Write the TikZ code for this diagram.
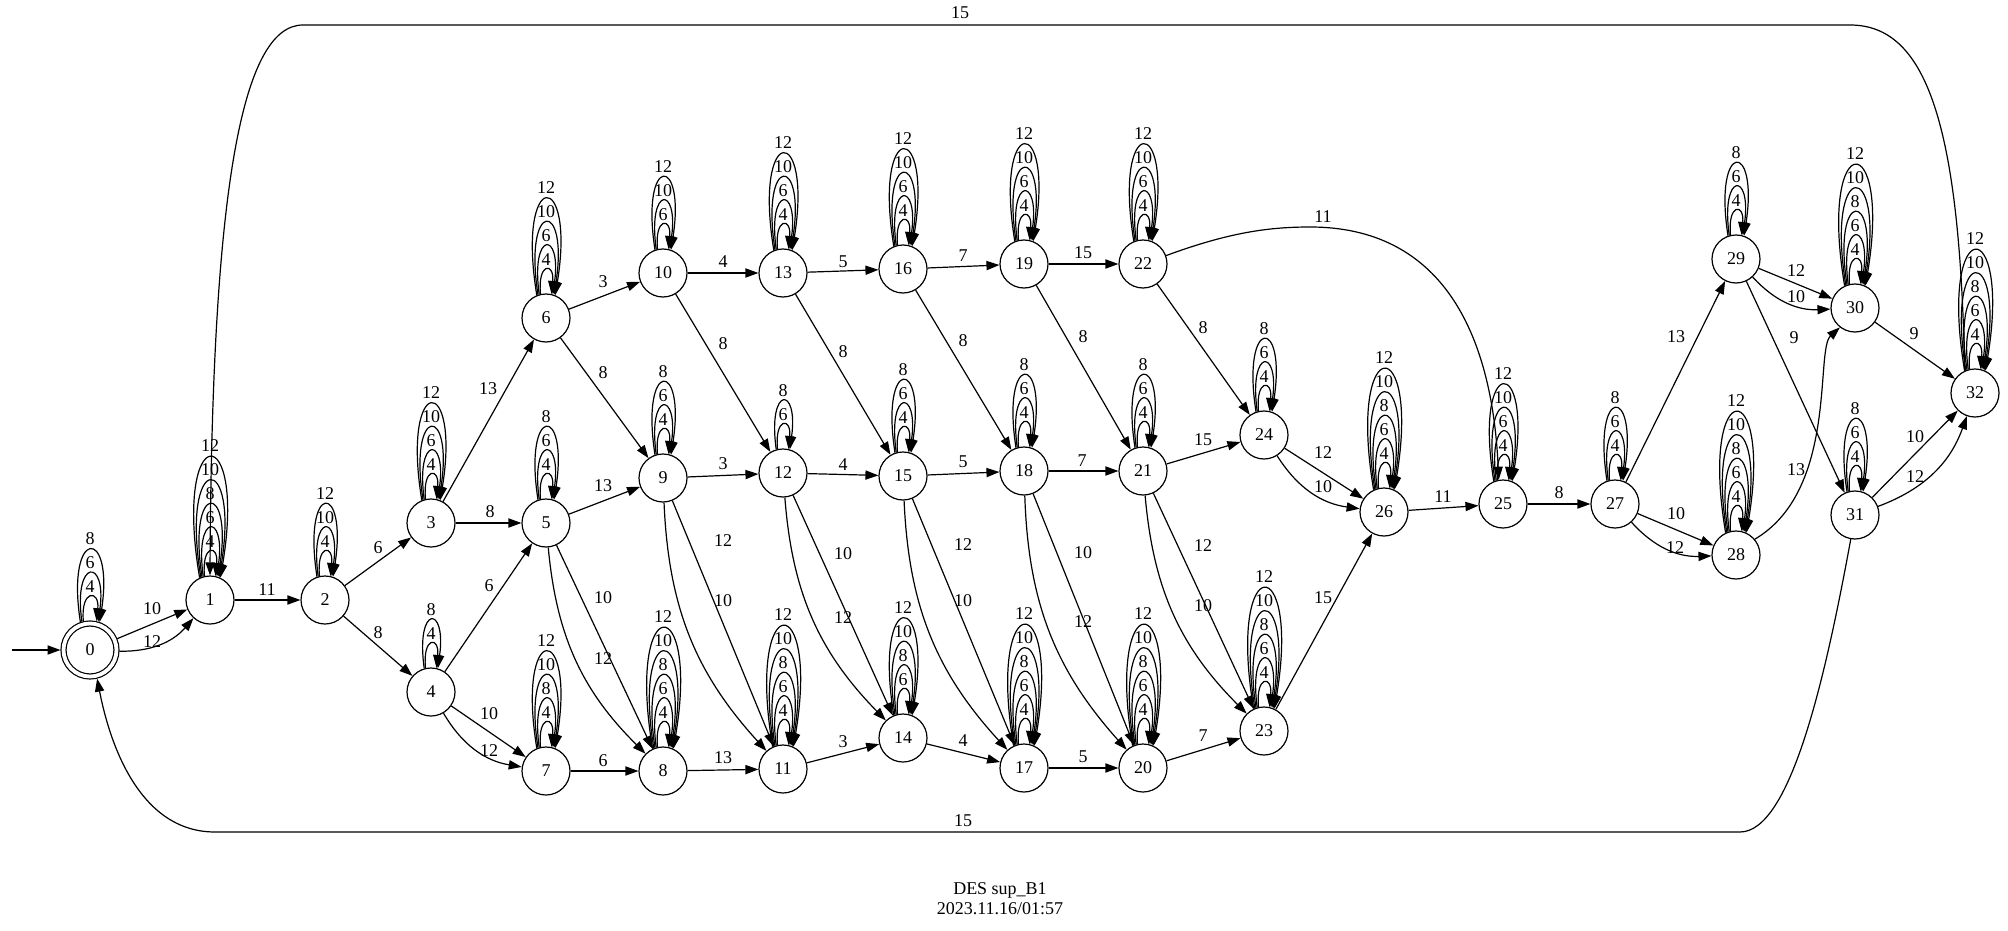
\documentclass[tikz,border=0pt]{standalone}
\usepackage{fontspec}
\setmainfont{Liberation Serif}
\usetikzlibrary{arrows.meta}

\tikzset{
  state/.style={circle,draw,minimum size=24pt,inner sep=0pt,font=\fontsize{9}{10}\selectfont},
  accept/.style={state,double,double distance=1.9pt,minimum size=26.5pt,outer sep=1.5pt},
  lbl/.style={inner sep=0pt,font=\fontsize{9}{10}\selectfont}
}

% stacked self loops above a state, labels listed from the inside out
\newcommand\drawloops[2]{%
  \foreach \lab [count=\k] in {#2} {%
    \pgfmathtruncatemacro\sa{100+3*\k}
    \pgfmathtruncatemacro\ea{80-3*\k}
    \pgfmathsetmacro\hh{32*\k}
    \pgfmathsetmacro\cc{3+6*(\k-1)}
    \pgfmathsetmacro\ly{12*\k+5}
    \draw[->] (#1.\sa) .. controls +(-\cc,-\hh) and +(\cc,-\hh) .. (#1.\ea);
    \node[lbl] at ([yshift=\ly pt]#1.north) {\lab};
  }%
}

\begin{document}
\begin{tikzpicture}[x=0.5pt,y=-0.5pt,semithick,>={Triangle[length=6.5pt,width=4.6pt]}]
  \useasboundingbox (0,0) rectangle (2008,931);

  \node[accept] (n0) at (90,650) {0};
  \node[state] (n1) at (210,600) {1};
  \node[state] (n2) at (325,600) {2};
  \node[state] (n3) at (431,523) {3};
  \node[state] (n4) at (431,692) {4};
  \node[state] (n5) at (546,523) {5};
  \node[state] (n6) at (546,318) {6};
  \node[state] (n7) at (546,771) {7};
  \node[state] (n8) at (663,771) {8};
  \node[state] (n9) at (663,478) {9};
  \node[state] (n10) at (663,273) {10};
  \node[state] (n11) at (783,769) {11};
  \node[state] (n12) at (783,473) {12};
  \node[state] (n13) at (783,273) {13};
  \node[state] (n14) at (903,738) {14};
  \node[state] (n15) at (903,476) {15};
  \node[state] (n16) at (903,269) {16};
  \node[state] (n17) at (1024,768) {17};
  \node[state] (n18) at (1024,471) {18};
  \node[state] (n19) at (1024,264) {19};
  \node[state] (n20) at (1143,768) {20};
  \node[state] (n21) at (1143,471) {21};
  \node[state] (n22) at (1143,264) {22};
  \node[state] (n23) at (1264,731) {23};
  \node[state] (n24) at (1264,435) {24};
  \node[state] (n25) at (1503,504) {25};
  \node[state] (n26) at (1384,512) {26};
  \node[state] (n27) at (1615,504) {27};
  \node[state] (n28) at (1736,555) {28};
  \node[state] (n29) at (1736,259) {29};
  \node[state] (n30) at (1855,308) {30};
  \node[state] (n31) at (1855,515) {31};
  \node[state] (n32) at (1975,393) {32};

  \coordinate (start) at (12,650);
  \draw[->] (start) -- (n0);

  \drawloops{n0}{4,6,8}
  \drawloops{n1}{4,6,8,10,12}
  \drawloops{n2}{4,10,12}
  \drawloops{n3}{4,6,10,12}
  \drawloops{n4}{4,8}
  \drawloops{n5}{4,6,8}
  \drawloops{n6}{4,6,10,12}
  \drawloops{n7}{4,8,10,12}
  \drawloops{n8}{4,6,8,10,12}
  \drawloops{n9}{4,6,8}
  \drawloops{n10}{6,10,12}
  \drawloops{n11}{4,6,8,10,12}
  \drawloops{n12}{6,8}
  \drawloops{n13}{4,6,10,12}
  \drawloops{n14}{6,8,10,12}
  \drawloops{n15}{4,6,8}
  \drawloops{n16}{4,6,10,12}
  \drawloops{n17}{4,6,8,10,12}
  \drawloops{n18}{4,6,8}
  \drawloops{n19}{4,6,10,12}
  \drawloops{n20}{4,6,8,10,12}
  \drawloops{n21}{4,6,8}
  \drawloops{n22}{4,6,10,12}
  \drawloops{n23}{4,6,8,10,12}
  \drawloops{n24}{4,6,8}
  \drawloops{n25}{4,6,10,12}
  \drawloops{n26}{4,6,8,10,12}
  \drawloops{n27}{4,6,8}
  \drawloops{n28}{4,6,8,10,12}
  \drawloops{n29}{4,6,8}
  \drawloops{n30}{4,6,8,10,12}
  \drawloops{n31}{4,6,8}
  \drawloops{n32}{4,6,8,10,12}

  \draw[->] (n0) -- (n1) node[lbl] at (152,609) {10};
  \draw[->] (n0) to[bend right=25] (n1) node[lbl] at (152,642) {12};
  \draw[->] (n1) -- (n2) node[lbl] at (267,590) {11};
  \draw[->] (n2) -- (n3) node[lbl] at (378,548) {6};
  \draw[->] (n2) -- (n4) node[lbl] at (378,633) {8};
  \draw[->] (n3) -- (n6) node[lbl] at (488,389) {13};
  \draw[->] (n3) -- (n5) node[lbl] at (490,512) {8};
  \draw[->] (n4) -- (n5) node[lbl] at (489,586) {6};
  \draw[->] (n4) -- (n7) node[lbl] at (489,714) {10};
  \draw[->] (n4) to[bend right=25] (n7) node[lbl] at (489,751) {12};
  \draw[->] (n5) -- (n9) node[lbl] at (603,486) {13};
  \draw[->] (n5) -- (n8) node[lbl] at (603,598) {10};
  \draw[->] (n5) to[bend right=20] (n8) node[lbl] at (603,659) {12};
  \draw[->] (n6) -- (n10) node[lbl] at (603,282) {3};
  \draw[->] (n6) -- (n9) node[lbl] at (603,373) {8};
  \draw[->] (n7) -- (n8) node[lbl] at (603,761) {6};
  \draw[->] (n9) -- (n12) node[lbl] at (723,464) {3};
  \draw[->] (n9) -- (n11) node[lbl] at (723,541) {12};
  \draw[->] (n9) to[bend right=20] (n11) node[lbl] at (723,601) {10};
  \draw[->] (n8) -- (n11) node[lbl] at (723,758) {13};
  \draw[->] (n10) -- (n13) node[lbl] at (723,262) {4};
  \draw[->] (n10) -- (n12) node[lbl] at (723,344) {8};
  \draw[->] (n12) -- (n15) node[lbl] at (843,465) {4};
  \draw[->] (n12) -- (n14) node[lbl] at (843,554) {10};
  \draw[->] (n12) to[bend right=20] (n14) node[lbl] at (843,618) {12};
  \draw[->] (n11) -- (n14) node[lbl] at (843,742) {3};
  \draw[->] (n13) -- (n16) node[lbl] at (843,262) {5};
  \draw[->] (n13) -- (n15) node[lbl] at (843,352) {8};
  \draw[->] (n15) -- (n18) node[lbl] at (963,462) {5};
  \draw[->] (n15) -- (n17) node[lbl] at (963,545) {12};
  \draw[->] (n15) to[bend right=20] (n17) node[lbl] at (963,601) {10};
  \draw[->] (n14) -- (n17) node[lbl] at (963,741) {4};
  \draw[->] (n16) -- (n19) node[lbl] at (963,256) {7};
  \draw[->] (n16) -- (n18) node[lbl] at (963,341) {8};
  \draw[->] (n18) -- (n21) node[lbl] at (1082,461) {7};
  \draw[->] (n18) -- (n20) node[lbl] at (1083,553) {10};
  \draw[->] (n18) to[bend right=20] (n20) node[lbl] at (1083,622) {12};
  \draw[->] (n17) -- (n20) node[lbl] at (1083,757) {5};
  \draw[->] (n19) -- (n22) node[lbl] at (1083,253) {15};
  \draw[->] (n19) -- (n21) node[lbl] at (1083,337) {8};
  \draw[->] (n21) -- (n24) node[lbl] at (1203,440) {15};
  \draw[->] (n21) -- (n23) node[lbl] at (1203,546) {12};
  \draw[->] (n21) to[bend right=20] (n23) node[lbl] at (1203,606) {10};
  \draw[->] (n20) -- (n23) node[lbl] at (1203,736) {7};
  \draw[->] (n22) -- (n24) node[lbl] at (1203,328) {8};
  \draw[->] (n22.20) .. controls (1230,232) and (1270,227) .. (1310,227)
    .. controls (1440,227) and (1492,330) .. (n25.100) node[lbl] at (1323,217) {11};
  \draw[->] (n24) -- (n26) node[lbl] at (1323,453) {12};
  \draw[->] (n24) to[bend right=25] (n26) node[lbl] at (1323,487) {10};
  \draw[->] (n23) -- (n26) node[lbl] at (1323,598) {15};
  \draw[->] (n26) -- (n25) node[lbl] at (1443,497) {11};
  \draw[->] (n25) -- (n27) node[lbl] at (1559,493) {8};
  \draw[->] (n27) -- (n29) node[lbl] at (1676,337) {13};
  \draw[->] (n27) -- (n28) node[lbl] at (1676,514) {10};
  \draw[->] (n27) to[bend right=25] (n28) node[lbl] at (1675,548) {12};
  \draw[->] (n29) -- (n30) node[lbl] at (1796,271) {12};
  \draw[->] (n29) to[bend right=25] (n30) node[lbl] at (1796,297) {10};
  \draw[->] (n29) -- (n31) node[lbl] at (1794,338) {9};
  \draw[->] (n28.40) .. controls (1838,490) and (1815,350) .. (n30.-128) node[lbl] at (1796,470) {13};
  \draw[->] (n30) -- (n32) node[lbl] at (1914,334) {9};
  \draw[->] (n31) -- (n32) node[lbl] at (1915,437) {10};
  \draw[->] (n31) to[bend right=25] (n32) node[lbl] at (1915,477) {12};

  \draw[->] (n31.-100) .. controls (1825,680) and (1790,832) .. (1740,832) -- (215,832)
    .. controls (140,832) and (110,745) .. (n0.-76) node[lbl] at (963,821) {15};
  \draw[->] (n32.115) .. controls (1960,120) and (1925,25) .. (1850,25) -- (303,25)
    .. controls (240,25) and (212,200) .. (n1.north) node[lbl] at (960,13) {15};

  \node[lbl,align=center] (title) at (1000,899) {DES sup\_B1\\2023.11.16/01:57};
\end{tikzpicture}
\end{document}
